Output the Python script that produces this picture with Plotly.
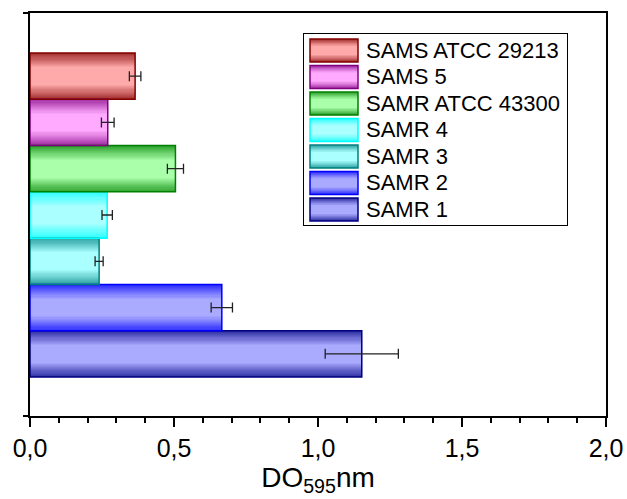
import plotly.graph_objects as go

# ---- data (bottom to top) ----
categories = ["SAMR 1", "SAMR 2", "SAMR 3", "SAMR 4", "SAMR ATCC 43300", "SAMS 5", "SAMS ATCC 29213"]
values = [1.152, 0.666, 0.240, 0.268, 0.505, 0.270, 0.365]
errors = [0.127, 0.037, 0.014, 0.018, 0.028, 0.022, 0.020]

# ---- styles ----
border_colors = [(0, 0, 128), (0, 0, 255), (0, 128, 128), (0, 255, 255), (0, 128, 0), (128, 0, 128), (128, 0, 0)]
center_colors = [(170, 170, 255), (170, 170, 255), (170, 255, 255), (170, 255, 255), (170, 255, 170), (255, 170, 255), (255, 170, 170)]

FONT = "Arial, Liberation Sans, sans-serif"
N_LAYERS = 14
EDGE_MIX = 0.28

def mix(a, b, t):
    return tuple(int(round(a[i] + (b[i] - a[i]) * t)) for i in range(3))

def rgb(c):
    return "rgb(%d,%d,%d)" % c

fig = go.Figure()
pos = list(range(len(categories)))

def gradient_bars(xvals, yvals, full_width, xaxis, yaxis, base=None, err=None):
    for k in range(N_LAYERS):
        t = k / (N_LAYERS - 1)
        w = full_width * (1 - 0.62 * t)
        cols = [rgb(mix(mix(b, c, EDGE_MIX), c, t)) for b, c in zip(border_colors, center_colors)]
        fig.add_trace(go.Bar(
            x=xvals, y=yvals, base=base, orientation="h", width=w,
            marker=dict(color=cols, line=dict(width=0)),
            xaxis=xaxis, yaxis=yaxis, showlegend=False, hoverinfo="skip",
        ))
    fig.add_trace(go.Bar(
        x=xvals, y=yvals, base=base, orientation="h", width=full_width,
        marker=dict(color="rgba(0,0,0,0)", line=dict(color=[rgb(b) for b in border_colors], width=1.5)),
        error_x=(dict(type="data", array=err, color="#222", thickness=1.3, width=5) if err is not None else None),
        xaxis=xaxis, yaxis=yaxis, showlegend=False, hoverinfo="skip",
    ))

# main bars
gradient_bars(values, pos, 1.0, "x", "y", err=errors)

# legend swatches (drawn on an inset axis, top entry = last category)
leg_pos = [len(categories) - i for i in pos]  # SAMR 1 -> bottom row
gradient_bars([48] * len(categories), leg_pos, 0.87, "x2", "y2", base=[6] * len(categories))
for name, p in zip(categories, leg_pos):
    fig.add_annotation(x=60, y=p, xref="x2", yref="y2", text=name, showarrow=False,
                       xanchor="left", yanchor="middle", font=dict(family=FONT, size=22, color="black"))

fig.update_layout(
    width=627, height=499,
    margin=dict(l=30, r=21, t=13, b=83, autoexpand=False),
    paper_bgcolor="white", plot_bgcolor="white",
    barmode="overlay", bargap=0,
    separators=",.",
    showlegend=False,
    hovermode=False,
    font=dict(family=FONT, color="black"),
    xaxis=dict(
        range=[0, 2.0], dtick=0.5, tickformat=".1f", automargin=False,
        showline=True, linecolor="black", linewidth=2, mirror=True,
        ticks="outside", ticklen=9, tickwidth=2, tickcolor="black",
        minor=dict(dtick=0.1, ticks="outside", ticklen=5, tickwidth=2, tickcolor="black"),
        showgrid=False, zeroline=False,
        tickfont=dict(family=FONT, size=25, color="black"),
        title=dict(text="DO<sub>595</sub>nm", font=dict(family=FONT, size=28, color="black"), standoff=0),
    ),
    yaxis=dict(
        range=[-1.3425, 7.364], automargin=False,
        showline=True, linecolor="black", linewidth=2, mirror=True,
        tickvals=[-1.3425, 7.364], ticks="outside", ticklen=5, tickwidth=2, tickcolor="black",
        showticklabels=False, showgrid=False, zeroline=False,
    ),
    xaxis2=dict(
        domain=[0.4757, 0.9323], anchor="y2", range=[0, 263], automargin=False,
        showline=True, linecolor="black", linewidth=1, mirror=True,
        showticklabels=False, ticks="", showgrid=False, zeroline=False, fixedrange=True,
    ),
    yaxis2=dict(
        domain=[0.474, 0.948], anchor="x2", range=[7.585, 0.377], automargin=False,
        showline=True, linecolor="black", linewidth=1, mirror=True,
        showticklabels=False, ticks="", showgrid=False, zeroline=False, fixedrange=True,
    ),
)

# remove the browser's default 8px page margin so the figure fills the window exactly
fig.write_html(
    "out.html",
    config={"displayModeBar": False, "staticPlot": True},
    post_script="document.body.style.margin='0';document.body.style.overflow='hidden';",
)
